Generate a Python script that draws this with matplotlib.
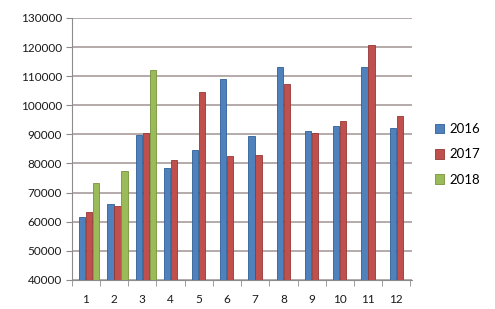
import matplotlib
matplotlib.use("Agg")
import matplotlib.pyplot as plt
import numpy as np

months = [1, 2, 3, 4, 5, 6, 7, 8, 9, 10, 11, 12]
sales_2016 = [61600, 66100, 89800, 78500, 84700, 109000, 89500, 113200, 91200, 92900, 113200, 92200]
sales_2017 = [63400, 65400, 90500, 81200, 104600, 82600, 82900, 107300, 90500, 94600, 120700, 96300]
sales_2018 = [73300, 77400, 112100]
series_names = ["2016", "2017", "2018"]
y_ticks = [40000, 50000, 60000, 70000, 80000, 90000, 100000, 110000, 120000, 130000]

plt.rcParams['font.family'] = ['Lato', 'DejaVu Sans']

fig = plt.figure(figsize=(4.95, 3.09), dpi=100)
ax = fig.add_axes([0.145, 0.094, 0.687, 0.848])

x = np.array(months, dtype=float)
w = 0.22
colors = ["#4F81BD", "#C0504D", "#9BBB59"]
edges = ["#2F5F96", "#943835", "#76923C"]
base = 40000

all_data = [sales_2016, sales_2017, sales_2018]
offsets = [-0.13, 0.12, 0.37]
handles = []
for data, off, c, ec, name in zip(all_data, offsets, colors, edges, series_names):
    xs = x[:len(data)] + off
    h = ax.bar(xs, np.array(data) - base, bottom=base, width=w, color=c,
               edgecolor=ec, linewidth=0.6, label=name, zorder=3)
    handles.append(h)

ax.set_ylim(40000, 130000)
ax.set_xlim(0.54, 12.55)
ax.set_yticks(y_ticks)
ax.set_yticklabels([str(t) for t in y_ticks], fontsize=8.5, color="#1a1a1a")
ax.set_xticks(months)
ax.set_xticklabels([str(m) for m in months], fontsize=8.5, color="#1a1a1a")
ax.set_xticks(np.arange(0.5, 13, 1.0), minor=True)
ax.tick_params(axis='x', which='major', length=0, pad=10)
ax.tick_params(axis='x', which='minor', length=4, color="#8c8c8c")
ax.tick_params(axis='y', length=4, color="#8c8c8c", pad=3)

ax.grid(axis='y', color="#a89c9c", linewidth=1.2, zorder=0)
for s in ['top', 'right']:
    ax.spines[s].set_visible(False)
ax.spines['left'].set_color("#8c8c8c")
ax.spines['bottom'].set_color("#8c8c8c")

fig.legend(handles=handles, loc='center left', bbox_to_anchor=(0.855, 0.5),
           frameon=False, fontsize=9.5, handlelength=0.7, handleheight=0.7,
           handletextpad=0.4, labelspacing=1.0)

fig.savefig("out.png", dpi=100)
